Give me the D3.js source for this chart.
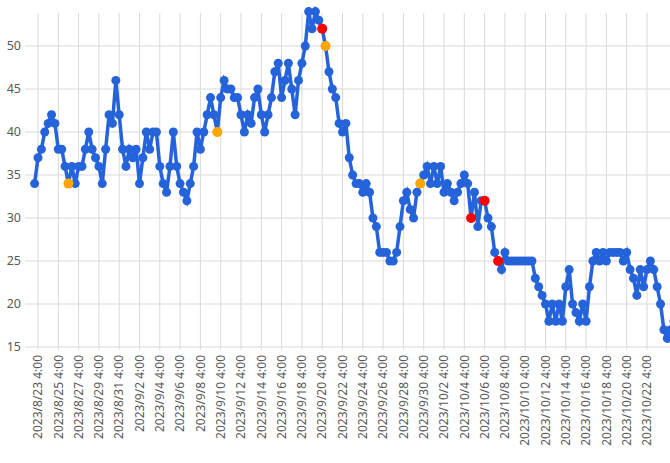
<!DOCTYPE html>
<html>
<head>
<meta charset="utf-8">
<script src="https://cdn.jsdelivr.net/npm/d3@7"></script>
<style>
  body { margin: 0; background: #fff; }
  text { font-family: "Noto Sans", sans-serif; fill: #595959; }
</style>
</head>
<body>
<script>
// values every 8 hours, starting 2023/8/22 20:00
const startTime = '2023/8/22 20:00';
const stepHours = 8;
const values = [
  34, 37, 38,  40, 41, 42,  41, 38, 38,  36, 34, 36,  34, 36, 36,
  38, 40, 38,  37, 36, 34,  38, 42, 41,  46, 42, 38,  36, 38, 37,
  38, 34, 37,  40, 38, 40,  40, 36, 34,  33, 36, 40,  36, 34, 33,
  32, 34, 36,  40, 38, 40,  42, 44, 42,  40, 44, 46,  45, 45, 44,
  44, 42, 40,  42, 41, 44,  45, 42, 40,  42, 44, 47,  48, 44, 46,
  48, 45, 42,  46, 48, 50,  54, 52, 54,  53, 52, 50,  47, 45, 44,
  41, 40, 41,  37, 35, 34,  34, 33, 34,  33, 30, 29,  26, 26, 26,
  25, 25, 26,  29, 32, 33,  31, 30, 33,  34, 35, 36,  34, 36, 34,
  36, 33, 34,  33, 32, 33,  34, 35, 34,  30, 33, 29,  32, 32, 30,
  29, 26, 25,  24, 26, 25,  25, 25, 25,  25, 25, 25,  25, 23, 22,
  21, 20, 18,  20, 18, 20,  18, 22, 24,  20, 19, 18,  20, 18, 22,
  25, 26, 25,  26, 25, 26,  26, 26, 26,  25, 26, 24,  23, 21, 24,
  22, 24, 25,  24, 22, 20,  17, 16, 17,  18
];
const orangeIdx = [10, 54, 86, 114];
const redIdx = [85, 129, 133, 137];
const yTicks = [15, 20, 25, 30, 35, 40, 45, 50];
const xTickFirst = '2023/8/23 4:00';
const xTickCount = 31;

const W = 670, H = 463;
const parse = d3.timeParse('%Y/%m/%d %H:%M');
const fmt = d => `${d.getFullYear()}/${d.getMonth() + 1}/${d.getDate()} 4:00`;

const t0 = parse(startTime);
const data = values.map((v, i) => ({
  t: d3.timeHour.offset(t0, i * stepHours),
  v,
  c: redIdx.includes(i) ? '#ff0000' : orangeIdx.includes(i) ? '#ffa500' : null
}));

const xTicks = d3.range(xTickCount).map(i => d3.timeHour.offset(parse(xTickFirst), i * 48));
const x = d3.scaleTime().domain([xTicks[0], xTicks[xTicks.length - 1]]).range([38, 647]);
const y = d3.scaleLinear().domain([15, 50]).range([347, 46]);

const svg = d3.select('body').append('svg').attr('width', W).attr('height', H);

// grid
svg.append('g').selectAll('line').data(yTicks).enter().append('line')
  .attr('x1', 25).attr('x2', 670)
  .attr('y1', d => y(d)).attr('y2', d => y(d))
  .attr('stroke', '#d9d9d9').attr('stroke-width', 1);
svg.append('g').selectAll('line').data(xTicks).enter().append('line')
  .attr('x1', d => x(d)).attr('x2', d => x(d))
  .attr('y1', 13).attr('y2', 350)
  .attr('stroke', '#d9d9d9').attr('stroke-width', 1);

// labels
svg.append('g').selectAll('text').data(yTicks).enter().append('text')
  .attr('x', 21).attr('y', d => y(d)).attr('dy', '0.35em')
  .attr('text-anchor', 'end').style('font-size', '12.5px')
  .text(d => d);
svg.append('g').selectAll('text').data(xTicks).enter().append('text')
  .attr('transform', d => `translate(${x(d)},355) rotate(-90)`)
  .attr('dy', '0.35em').attr('text-anchor', 'end').style('font-size', '12px')
  .text(fmt);

// series
const line = d3.line().x(d => x(d.t)).y(d => y(d.v));
svg.append('path').datum(data)
  .attr('d', line).attr('fill', 'none')
  .attr('stroke', '#2463d9').attr('stroke-width', 3.5);
svg.append('g').selectAll('circle').data(data).enter().append('circle')
  .attr('cx', d => x(d.t)).attr('cy', d => y(d.v)).attr('r', 4.5)
  .attr('fill', '#2463d9');
svg.append('g').selectAll('circle').data(data.filter(d => d.c)).enter().append('circle')
  .attr('cx', d => x(d.t)).attr('cy', d => y(d.v)).attr('r', 5)
  .attr('fill', d => d.c);
</script>
</body>
</html>
